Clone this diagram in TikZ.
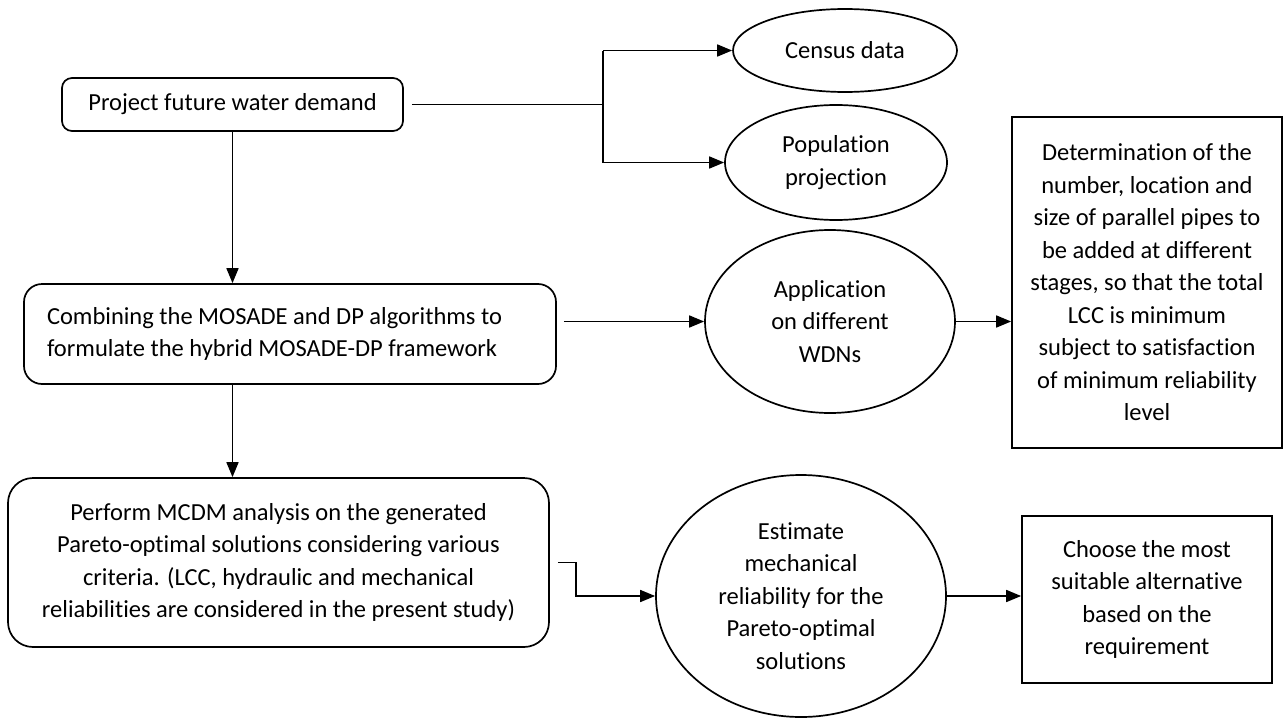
\documentclass[tikz,border=0pt]{standalone}
\usepackage{fontspec}
\setmainfont{Carlito}[Ligatures={NoCommon}]
\usetikzlibrary{arrows.meta,shapes.geometric,positioning,calc}

\begin{document}
\begin{tikzpicture}[x=1pt,y=-1pt,line width=1.7pt,
  font=\fontsize{24.5}{32.5}\selectfont,
  rbox/.style={draw,rounded corners=#1,inner sep=0pt,align=center},
  sbox/.style={draw,inner sep=0pt,align=center},
  oval/.style={draw,ellipse,inner sep=0pt,align=center},
  link/.style={-{Triangle[length=15pt,width=12pt]}}]
\useasboundingbox (0,0) rectangle (1283,723);
% left column
\node[rbox=10pt,minimum width=341pt,minimum height=53pt] (demand) at (232.5,104.5) {Project future water demand};
\node[rbox=18pt,minimum width=532pt,minimum height=100pt,text width=486pt,align=flush left] (combine) at (290,334) {Combining the MOSADE and DP algorithms to\\formulate the hybrid MOSADE-DP framework};
\node[rbox=25pt,minimum width=541pt,minimum height=169pt] (mcdm) at (278.5,562.5) {Perform MCDM analysis on the generated\\Pareto-optimal solutions considering various\\criteria. (LCC, hydraulic and mechanical\\reliabilities are considered in the present study)};
% ovals
\node[oval,minimum width=224pt,minimum height=83pt] (census) at (845,50.5) {Census data};
\node[oval,minimum width=222pt,minimum height=115pt] (popul) at (836,162.5) {Population\\projection};
\node[oval,minimum width=250pt,minimum height=183pt] (app) at (830,321.5) {Application\\on different\\WDNs};
\node[oval,minimum width=290pt,minimum height=242pt] (estim) at (801,596) {Estimate\\mechanical\\reliability for the\\Pareto-optimal\\solutions};
% right column
\node[sbox,minimum width=270pt,minimum height=331pt] (determ) at (1147,282.5) {Determination of the\\number, location and\\size of parallel pipes to\\be added at different\\stages, so that the total\\LCC is minimum\\subject to satisfaction\\of minimum reliability\\level};
\node[sbox,minimum width=250pt,minimum height=167pt] (choose) at (1147,599.5) {Choose the most\\suitable alternative\\based on the\\requirement};
% connectors
\coordinate (fork) at (603,104.5);
\draw[shorten <=8pt] (demand.east) -- (fork);
\draw (fork |- census.west) -- (fork |- popul.west);
\draw[link] (fork |- census.west) -- (census.west);
\draw[link] (fork |- popul.west) -- (popul.west);
\draw[link] (demand.south) -- (demand.south |- combine.north);
\draw[link] (demand.south |- combine.south) -- (demand.south |- mcdm.north);
\draw[link,shorten <=7pt] (combine.east |- app.west) -- (app.west);
\draw[link] (app.east) -- (app.east -| determ.west);
\draw[link,shorten <=8pt] (mcdm.east) -- ++(26,0) |- (estim.west);
\draw[link] (estim.east) -- (estim.east -| choose.west);
\end{tikzpicture}
\end{document}
